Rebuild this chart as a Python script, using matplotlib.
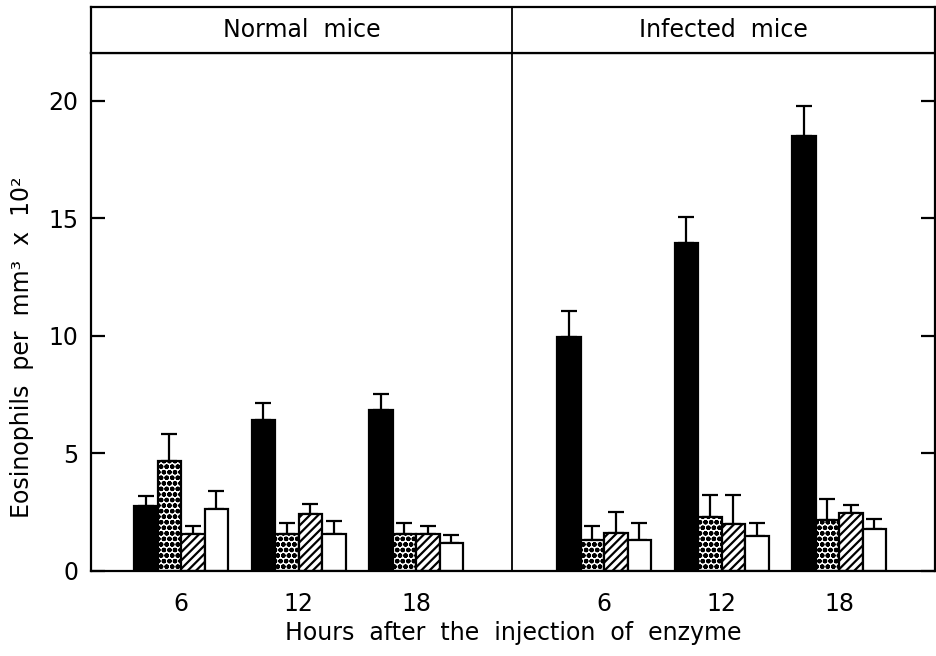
import matplotlib
matplotlib.use('Agg')
import matplotlib.pyplot as plt
import numpy as np

plt.rcParams['font.family'] = ['DejaVu Sans']
plt.rcParams['hatch.linewidth'] = 1.6

hours = ['6', '12', '18']
panels = ['Normal  mice', 'Infected  mice']

# bar heights (eosinophils per mm3 x 10^2) and upper error bars
normal_black = [2.78, 6.43, 6.84]
normal_dot = [4.68, 1.57, 1.57]
normal_hatch = [1.57, 2.41, 1.57]
normal_white = [2.64, 1.57, 1.18]
normal_black_err = [0.42, 0.73, 0.69]
normal_dot_err = [1.15, 0.49, 0.46]
normal_hatch_err = [0.36, 0.44, 0.36]
normal_white_err = [0.76, 0.57, 0.37]

infected_black = [9.97, 13.97, 18.52]
infected_dot = [1.32, 2.28, 2.17]
infected_hatch = [1.62, 2.00, 2.48]
infected_white = [1.30, 1.48, 1.79]
infected_black_err = [1.09, 1.08, 1.27]
infected_dot_err = [0.59, 0.94, 0.88]
infected_hatch_err = [0.90, 1.22, 0.33]
infected_white_err = [0.76, 0.55, 0.42]

fig = plt.figure(figsize=(9.36, 6.56), dpi=100)
ax = fig.add_axes([91 / 936, 1 - 571 / 656, 844 / 936, 518 / 656])
hx = fig.add_axes([91 / 936, 1 - 53 / 656, 844 / 936, 46 / 656])

bar_width = 0.2
normal_pos = np.arange(3)
infected_pos = np.arange(3) + 3.6
styles = [
    dict(color='black', hatch=None),
    dict(color='white', hatch='ooo'),
    dict(color='white', hatch='////'),
    dict(color='white', hatch=None),
]

def draw_group(pos, series, errs):
    for i, (vals, err, st) in enumerate(zip(series, errs, styles)):
        x = pos + (i - 1.5) * bar_width
        ax.bar(x, vals, width=bar_width, color=st['color'], edgecolor='black',
               linewidth=1.6, hatch=st['hatch'], zorder=2)
        ax.errorbar(x, vals, yerr=[np.zeros(len(vals)), err], fmt='none',
                    ecolor='black', elinewidth=1.6, capsize=5.5, capthick=1.6, zorder=1)

draw_group(normal_pos, [normal_black, normal_dot, normal_hatch, normal_white],
           [normal_black_err, normal_dot_err, normal_hatch_err, normal_white_err])
draw_group(infected_pos, [infected_black, infected_dot, infected_hatch, infected_white],
           [infected_black_err, infected_dot_err, infected_hatch_err, infected_white_err])

divider = 2.817
ax.set_xlim(-0.766, 6.417)
ax.set_ylim(0, 22.04)
ax.axvline(divider, color='black', linewidth=1.3)
for s in ax.spines.values():
    s.set_linewidth(1.6)
ax.set_yticks([0, 5, 10, 15, 20])
ax.tick_params(axis='y', direction='in', length=10, width=1.6, right=True,
               labelsize=17, pad=9)
ax.set_xticks(list(normal_pos) + list(infected_pos))
ax.set_xticklabels(hours + hours, fontsize=17)
ax.tick_params(axis='x', length=0, pad=15)
ax.set_xlabel('Hours  after  the  injection  of  enzyme', fontsize=17, labelpad=4)
fig.text(22 / 936, 1 - 347 / 656, 'Eosinophils  per  mm³  x  10²', rotation=90,
         ha='center', va='center', fontsize=17)

hx.set_xlim(ax.get_xlim())
hx.set_ylim(0, 1)
hx.set_xticks([])
hx.set_yticks([])
for s in hx.spines.values():
    s.set_linewidth(1.6)
hx.axvline(divider, color='black', linewidth=1.3)
hx.text((ax.get_xlim()[0] + divider) / 2, 0.5, panels[0], ha='center', va='center', fontsize=17)
hx.text((ax.get_xlim()[1] + divider) / 2, 0.5, panels[1], ha='center', va='center', fontsize=17)

plt.savefig('out.png', dpi=100)
